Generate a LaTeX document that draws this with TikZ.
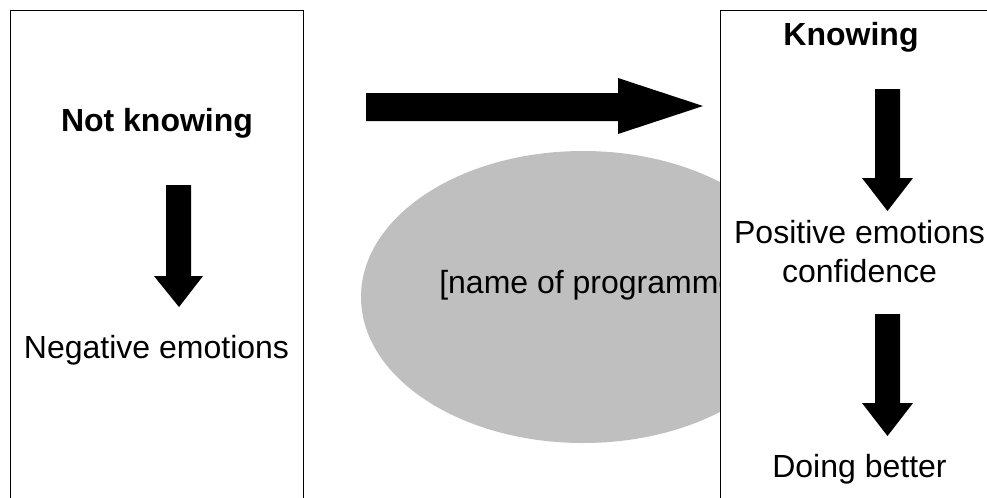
\documentclass[tikz,border=0pt]{standalone}
\usepackage{fontspec}
\setmainfont{Liberation Sans}
\begin{document}
\begin{tikzpicture}[x=0.75pt,y=-0.75pt,
  boxline/.style={draw=black,line width=0.75pt,fill=white},
  blockarrow/.style={fill=black,draw=none},
  lbl/.style={anchor=base,inner sep=0pt,font=\fontsize{24}{29.25}\selectfont},
  blbl/.style={lbl,font=\fontsize{24}{29.25}\selectfont\bfseries},
  prog/.style={fill=black!25,draw=none}]
\useasboundingbox (0,0) rectangle (987,497);
\clip (0,0) rectangle (987,497);
% left box
\draw[boxline] (10,520) -- (10,10) -- (303,10) -- (303,520);
% ellipse with programme name
\fill[prog] (583,297) ellipse [x radius=222, y radius=146];
\node[lbl,anchor=base west] (prog) at (439,293) {[name of programme]};
% right box (covers part of the ellipse)
\path[boxline] (720,520) rectangle (1010,10);
% big arrow
\fill[blockarrow] (366,93) -- (618,93) -- (618,78) -- (703,106) -- (618,134) -- (618,121) -- (366,121) -- cycle;
% left column
\node[blbl] (nk) at (157,131) {Not knowing};
\fill[blockarrow] (166,185) -- (191,185) -- (191,276) -- (203,276) -- (179,307) -- (154,276) -- (166,276) -- cycle;
\node[lbl] (neg) at (156.5,358) {Negative emotions};
% right column
\node[blbl] (kn) at (851,45) {Knowing};
\fill[blockarrow] (875,89) -- (900,89) -- (900,178) -- (913,178) -- (887.5,211) -- (862,178) -- (875,178) -- cycle;
\node[lbl] (pos) at (859.5,243) {Positive emotions};
\node[lbl] (conf) at (859.5,282) {confidence};
\fill[blockarrow] (875,314) -- (900,314) -- (900,403) -- (913,403) -- (887.5,436) -- (862,403) -- (875,403) -- cycle;
\node[lbl] (db) at (859.5,477) {Doing better};
\end{tikzpicture}
\end{document}
